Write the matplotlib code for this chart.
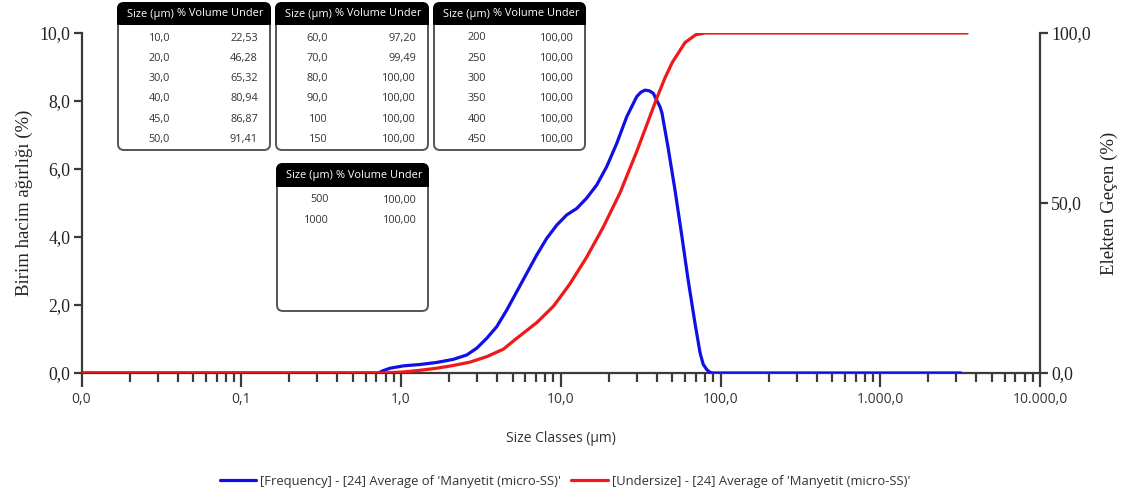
import matplotlib
matplotlib.use('Agg')
import matplotlib.pyplot as plt
from matplotlib.patches import FancyBboxPatch, Rectangle
from matplotlib.transforms import Affine2D
import matplotlib.ticker as mticker

# ---------------- data ----------------
freq_size = [0.01, 0.72, 0.774, 0.853, 1.035, 1.315, 1.67, 2.12, 2.58, 2.98, 3.44,
             3.97, 4.59, 5.30, 6.12, 7.07, 8.17, 9.44, 10.9, 12.6, 14.5, 16.8,
             19.4, 22.4, 25.9, 29.9, 31.8, 33.7, 35.8, 37.9, 41.8, 43.0, 46.9,
             51.9, 57.4, 62.7, 69.2, 74.5, 78.0, 82.4, 86.0, 89.8, 3200]
freq_value = [0, 0, 0.07, 0.14, 0.21, 0.25, 0.31, 0.40, 0.53, 0.73, 1.02,
              1.36, 1.85, 2.39, 2.93, 3.47, 3.96, 4.35, 4.65, 4.84, 5.14, 5.53,
              6.07, 6.75, 7.54, 8.13, 8.26, 8.32, 8.30, 8.23, 7.83, 7.65, 6.65,
              5.38, 4.00, 2.74, 1.47, 0.59, 0.25, 0.09, 0.02, 0, 0]

under_size = [0.01, 0.77, 1.035, 1.315, 1.67, 2.12, 2.70, 3.44, 4.37, 5.30, 7.07,
              8.98, 10, 11.4, 14.5, 18.5, 20, 23.5, 30, 40, 45, 50, 60, 70, 80, 3500]
under_value = [0, 0, 0.3, 0.8, 1.4, 2.2, 3.2, 4.8, 7.0, 10.2, 14.8,
               19.6, 22.53, 26.2, 34.0, 43.0, 46.28, 53.0, 65.32, 80.94, 86.87,
               91.41, 97.20, 99.49, 100, 100]

x_ticks = [0.01, 0.1, 1, 10, 100, 1000, 10000]
x_ticklabels = ['0,0', '0,1', '1,0', '10,0', '100,0', '1.000,0', '10.000,0']
y_ticks = [0, 2, 4, 6, 8, 10]
y_ticklabels = ['0,0', '2,0', '4,0', '6,0', '8,0', '10,0']
y2_ticks = [0, 50, 100]
y2_ticklabels = ['0,0', '50,0', '100,0']

table_header = ['Size (µm)', '% Volume Under']
table1_size = ['10,0', '20,0', '30,0', '40,0', '45,0', '50,0']
table1_value = ['22,53', '46,28', '65,32', '80,94', '86,87', '91,41']
table2_size = ['60,0', '70,0', '80,0', '90,0', '100', '150']
table2_value = ['97,20', '99,49', '100,00', '100,00', '100,00', '100,00']
table3_size = ['200', '250', '300', '350', '400', '450']
table3_value = ['100,00', '100,00', '100,00', '100,00', '100,00', '100,00']
table4_size = ['500', '1000']
table4_value = ['100,00', '100,00']

label_freq = "[Frequency] - [24] Average of 'Manyetit (micro-SS)'"
label_under = "[Undersize] - [24] Average of 'Manyetit (micro-SS)'"

# ---------------- figure ----------------
W, H = 1125, 495
fig = plt.figure(figsize=(W / 100, H / 100), dpi=100)
fig.patch.set_facecolor('white')

SANS = ['Open Sans', 'DejaVu Sans']
SERIF = ['Liberation Serif', 'DejaVu Serif']
AX_COL = '#3a3a3a'
BLUE = '#1010e6'
RED = '#f01818'

left, right, top, bottom = 81.5, 1040, 33, 373
ax = fig.add_axes([left / W, 1 - bottom / H, (right - left) / W, (bottom - top) / H])
ax2 = ax.twinx()

ax.plot(freq_size, freq_value, color=BLUE, lw=2.3, solid_joinstyle='round',
        solid_capstyle='round', label=label_freq, zorder=3)
ax2.plot(under_size, under_value, color=RED, lw=2.3, solid_joinstyle='round',
         solid_capstyle='round', label=label_under, zorder=3)

ax.set_xscale('log')
ax.set_xlim(0.01, 10000)
ax.set_ylim(0, 10)
ax2.set_ylim(0, 100)

ax.xaxis.set_major_locator(mticker.FixedLocator(x_ticks))
ax.xaxis.set_major_formatter(mticker.FixedFormatter(x_ticklabels))
ax.xaxis.set_minor_locator(mticker.LogLocator(base=10, subs=range(2, 10), numticks=100))
ax.xaxis.set_minor_formatter(mticker.NullFormatter())
ax.set_yticks(y_ticks)
ax.set_yticklabels(y_ticklabels)
ax2.set_yticks(y2_ticks)
ax2.set_yticklabels(y2_ticklabels)

for a in (ax, ax2):
    a.spines['top'].set_visible(False)
    for s in a.spines.values():
        s.set_color(AX_COL)
        s.set_linewidth(1.6)
ax.spines['right'].set_visible(False)
ax2.spines['left'].set_visible(False)
ax2.spines['bottom'].set_visible(False)

ax.tick_params(axis='x', which='major', direction='out', length=10, width=1.6,
               color=AX_COL, labelsize=10, labelcolor='#333333', pad=4)
ax.tick_params(axis='x', which='minor', direction='out', length=6.5, width=1.6,
               color=AX_COL)
ax.tick_params(axis='y', which='major', direction='out', length=6, width=1.6,
               color=AX_COL, labelsize=12.8, labelcolor='#222222', pad=2)
ax2.tick_params(axis='y', which='major', direction='out', length=6, width=1.6,
                color=AX_COL, labelsize=12.8, labelcolor='#222222', pad=2)
for t in ax.get_xticklabels():
    t.set_family(SANS)
for t in ax.get_yticklabels() + ax2.get_yticklabels():
    t.set_family(SERIF)

ax.set_ylabel('Birim hacim ağırlığı (%)', family=SERIF, fontsize=13.5, color='#222222',
              labelpad=5)
ax2.set_ylabel('Elekten Geçen (%)', family=SERIF, fontsize=13.5, color='#222222',
               labelpad=7)
ax.set_xlabel('Size Classes (µm)', family=SANS, fontsize=10, color='#333333', labelpad=17)

h1, l1 = ax.get_legend_handles_labels()
h2, l2 = ax2.get_legend_handles_labels()
fig.legend(h1 + h2, l1 + l2, loc='center', bbox_to_anchor=(565 / W, 1 - 481 / H),
           ncol=2, frameon=False, prop={'family': SANS, 'size': 9.4},
           handlelength=2.8, handletextpad=0.3, columnspacing=0.8, labelcolor='#333333')

# ---------------- tables ----------------
trans = Affine2D().scale(1 / W, -1 / H).translate(0, 1) + fig.transFigure


def draw_table(x0, y0, x1, y1, hdr_bottom, sizes, values, row_step=20.3):
    r = 6
    outline = FancyBboxPatch((x0, y0), x1 - x0, y1 - y0,
                             boxstyle=f'round,pad=0,rounding_size={r}',
                             transform=trans, facecolor='white', edgecolor='#555555',
                             linewidth=1.4, zorder=5)
    fig.add_artist(outline)
    hdr = FancyBboxPatch((x0, y0), x1 - x0, hdr_bottom - y0,
                         boxstyle=f'round,pad=0,rounding_size={r}',
                         transform=trans, facecolor='black', edgecolor='black',
                         linewidth=1.4, zorder=6)
    fig.add_artist(hdr)
    sq = Rectangle((x0, y0 + (hdr_bottom - y0) / 2), x1 - x0, (hdr_bottom - y0) / 2,
                   transform=trans, facecolor='black', edgecolor='black',
                   linewidth=1.4, zorder=6)
    fig.add_artist(sq)
    fig.text(x0 + 32, (y0 + hdr_bottom) / 2 + 0.5, table_header[0], transform=trans,
             color='white', fontsize=7.9, family=SANS, ha='center', va='center', zorder=7)
    fig.text(x0 + 102, (y0 + hdr_bottom) / 2 + 0.5, table_header[1], transform=trans,
             color='white', fontsize=7.9, family=SANS, ha='center', va='center', zorder=7)
    for i, (s, v) in enumerate(zip(sizes, values)):
        yy = hdr_bottom + 14 + i * row_step
        fig.text(x0 + 52, yy, s, transform=trans, color='#333333', fontsize=7.8,
                 family=SANS, ha='right', va='center', zorder=7)
        fig.text(x0 + 140, yy, v, transform=trans, color='#333333', fontsize=7.8,
                 family=SANS, ha='right', va='center', zorder=7)


draw_table(118, 3, 270, 150, 24, table1_size, table1_value)
draw_table(276, 3, 428, 150, 24, table2_size, table2_value)
draw_table(434, 3, 585, 150, 24, table3_size, table3_value)
draw_table(277, 164, 428, 311, 186, table4_size, table4_value)

fig.savefig('out.png', dpi=100, facecolor='white')
